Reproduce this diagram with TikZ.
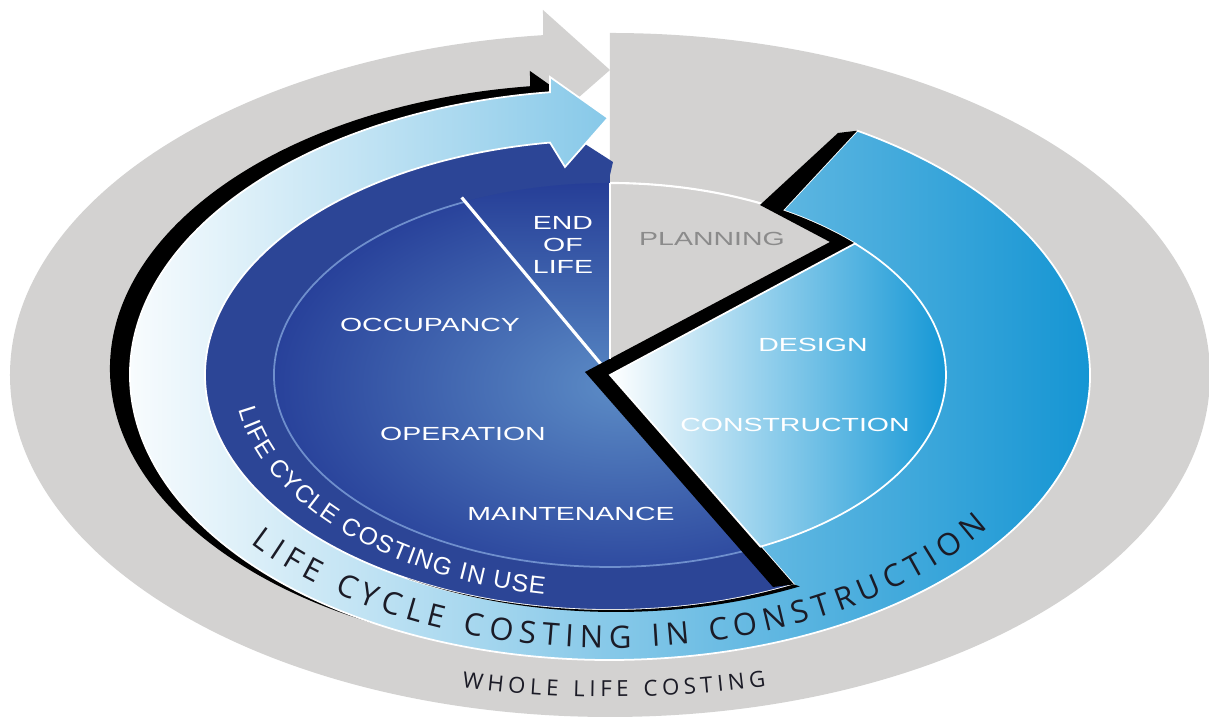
\documentclass[tikz,border=0pt]{standalone}
\usepackage{fontspec}
\setmainfont{Liberation Sans}
\newfontfamily\opensans{Open Sans}
\usetikzlibrary{decorations.text}

\definecolor{wlgrey}{HTML}{D3D2D1}
\definecolor{plangrey}{HTML}{8B8B8B}
\definecolor{ringblue}{HTML}{2C4596}
\definecolor{discin}{HTML}{5C8CC6}
\definecolor{discout}{HTML}{233A96}
\definecolor{discline}{HTML}{6F8FCD}
\definecolor{eoltop}{HTML}{263E97}
\definecolor{eolbot}{HTML}{5483C1}
\definecolor{bandmid}{HTML}{A2CEEF}
\definecolor{bandright}{HTML}{0E92D2}
\definecolor{desmid}{HTML}{86C0EA}
\definecolor{desright}{HTML}{1296D5}
\definecolor{ringtxt}{HTML}{1B1B26}

\newcommand\wide[1]{\scalebox{1.5}[1]{#1}}
\newcommand\fuse{\fontsize{7}{8}\selectfont\color{white}}
\newcommand\fcons{\opensans\fontsize{8.8}{10}\selectfont\color{ringtxt}}
\newcommand\fwhole{\opensans\fontsize{6.3}{7}\selectfont\color{ringtxt}}

\tikzset{
  stage/.style={text=white, font=\fontsize{5.4}{6.3}\selectfont, inner sep=0pt},
}

\begin{document}
\begin{tikzpicture}
    \useasboundingbox (-6.10,-3.45) rectangle (5.99,3.75);

    % Whole life costing
    \fill[wlgrey] (90:6cm and 3.42cm) arc[start angle=90, end angle=-90, x radius=6cm, y radius=3.42cm] -- cycle;
    \fill[wlgrey] (270:6cm and 3.42cm) arc[start angle=270, end angle=96.41, x radius=6cm, y radius=3.42cm]
        -- (-0.67,3.65) -- (0,3.05) -- (-0.40,2.70)
        -- (99.52:4.05cm and 2.35cm) arc[start angle=99.52, end angle=270, x radius=4.05cm, y radius=2.35cm] -- cycle;
    \draw[white, line width=0.6pt] (59:3.36cm and 1.92cm) arc[start angle=59, end angle=90, x radius=3.36cm, y radius=1.92cm];

    % Shadow of the outer band
    \fill[black, shift={(-0.20,0.06)}] (297:4.05cm and 2.35cm) arc[start angle=297, end angle=98.52, x radius=4.05cm, y radius=2.35cm]
        -- (-0.45,2.08) -- (-0.02,2.57) -- (-0.60,2.98)
        -- (97.18:4.8cm and 2.85cm) arc[start angle=97.18, end angle=297, x radius=4.8cm, y radius=2.85cm] -- cycle;

    % Life cycle costing in use
    \fill[ringblue] (0,0) -- (297:4.05cm and 2.35cm) arc[start angle=297, end angle=97.09, x radius=4.05cm, y radius=2.35cm]
        -- (-0.50,2.47) -- (0.03,2.13) -- (0,2.00) -- cycle;
    \begin{scope}
        \clip (0,0) -- (90:3.36cm and 1.92cm) arc[start angle=90, end angle=296.6, x radius=3.36cm, y radius=1.92cm] -- cycle;
        \shade[inner color=discin, outer color=discout] (0.1,-0.1) ellipse[x radius=3.8cm, y radius=2.3cm];
    \end{scope}
    \shade[top color=eoltop, bottom color=eolbot] (0,0) -- (90:3.36cm and 1.92cm) arc[start angle=90, end angle=115.7, x radius=3.36cm, y radius=1.92cm] -- cycle;
    \draw[discline, line width=0.5pt] (115.7:3.36cm and 1.92cm) arc[start angle=115.7, end angle=296.6, x radius=3.36cm, y radius=1.92cm];
    \draw[white, line width=0.9pt] (0,0) -- (115.7:3.42cm and 1.97cm);

    % Life cycle costing in construction
    \shade[left color=white, middle color=bandmid, right color=bandright, draw=white, line width=0.5pt]
        (0,0) -- (297:4.05cm and 2.35cm) arc[start angle=297, end angle=98.52, x radius=4.05cm, y radius=2.35cm]
        -- (-0.45,2.08) -- (-0.02,2.57) -- (-0.60,2.98)
        -- (97.18:4.8cm and 2.85cm) arc[start angle=97.18, end angle=419, x radius=4.8cm, y radius=2.85cm]
        -- (59:3.36cm and 1.92cm) arc[start angle=59, end angle=43.2, x radius=3.36cm, y radius=1.92cm] -- cycle;

    % Black edges
    \fill[black] ([shift={(0.06,-0.02)}]297:4.05cm and 2.35cm) arc[start angle=297, end angle=240, x radius=4.05cm, y radius=2.35cm]
        -- (240:4.05cm and 2.35cm) arc[start angle=240, end angle=297, x radius=4.05cm, y radius=2.35cm] -- cycle;
    \fill[black] (2.28,2.42) -- (59:4.8cm and 2.85cm) -- (59:3.36cm and 1.92cm)
        arc[start angle=59, end angle=43.2, x radius=3.36cm, y radius=1.92cm]
        -- (0,0) -- (297:4.05cm and 2.35cm) -- (1.63,-2.12) -- (-0.25,0.03) -- (2.20,1.33) -- (1.50,1.70) -- cycle;

    % Design and construction
    \shade[left color=white, middle color=desmid, right color=desright, draw=white, line width=0.5pt]
        (0,0) -- (296.6:3.36cm and 1.92cm) arc[start angle=296.6, end angle=403.2, x radius=3.36cm, y radius=1.92cm] -- cycle;
    \draw[white, line width=0.6pt] (0,0.16) -- (0,1.92);

    % Stages
    \node[stage, align=center] (eol) at (-0.47,1.30) {\wide{END}\\\wide{OF}\\\wide{LIFE}};
    \node[stage, text=plangrey] (plan) at (1.02,1.36) {\wide{PLANNING}};
    \node[stage] (occ) at (-1.80,0.50) {\wide{OCCUPANCY}};
    \node[stage] (des) at (2.03,0.30) {\wide{DESIGN}};
    \node[stage] (oper) at (-1.47,-0.59) {\wide{OPERATION}};
    \node[stage] (cons) at (1.85,-0.50) {\wide{CONSTRUCTION}};
    \node[stage] (maint) at (-0.39,-1.39) {\wide{MAINTENANCE}};

    % Ring titles
    \path[decorate, decoration={text along path, text align={fit to path}, text={|\fuse|LIFE CYCLE COSTING IN USE}}]
        (189:3.76cm and 2.23cm) arc[start angle=189, end angle=260, x radius=3.76cm, y radius=2.23cm];
    \path[decorate, decoration={text along path, text align={fit to path}, text={|\fcons|LIFE CYCLE COSTING IN CONSTRUCTION}}]
        (218:4.56cm and 2.73cm) arc[start angle=218, end angle=326, x radius=4.56cm, y radius=2.73cm];
    \path[decorate, decoration={text along path, text align={fit to path}, text={|\fwhole|WHOLE LIFE COSTING}}]
        (255.7:6cm and 3.22cm) arc[start angle=255.7, end angle=285.1, x radius=6cm, y radius=3.22cm];
\end{tikzpicture}
\end{document}
